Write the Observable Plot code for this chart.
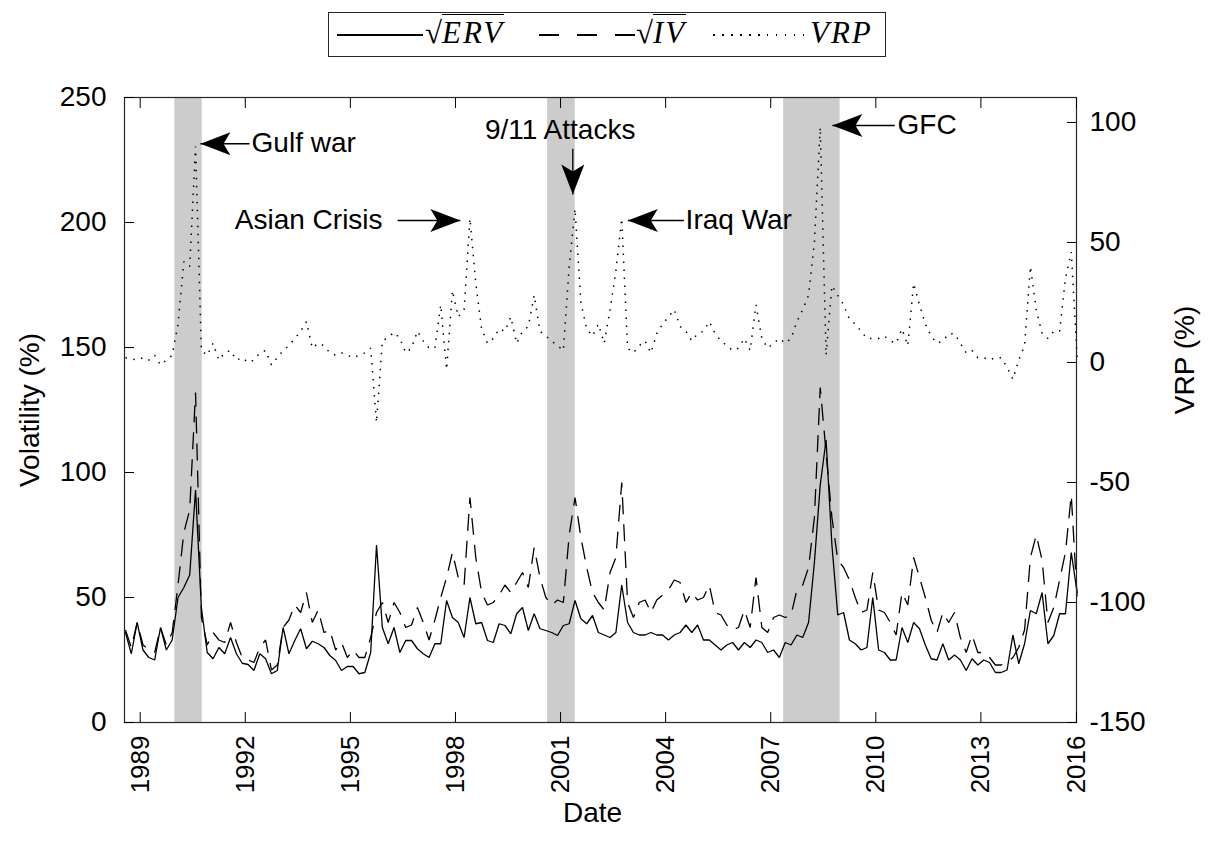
<!DOCTYPE html>
<html>
<head>
<meta charset="utf-8">
<script src="https://cdn.jsdelivr.net/npm/d3@7"></script>
<script src="https://cdn.jsdelivr.net/npm/@observablehq/plot@0.6"></script>
<style>
  body { margin: 0; background: #fff; }
  #wrap { width: 1209px; position: relative; }
  #legend { position: relative; width: 1209px; height: 70px; font-family: "Liberation Serif", "DejaVu Serif", serif; color: #000; }
  #legend .box { position: absolute; left: 328px; top: 12px; width: 558px; height: 45px; box-sizing: border-box; border: 1.2px solid #262626; background: #fff; }
  #legend .sw { position: absolute; top: 34px; height: 1.5px; }
  #legend .lab { position: absolute; top: 17px; font-size: 31px; line-height: 32px; white-space: nowrap; }
  #legend .rad { font-style: normal; }
  #legend .ov { font-style: italic; letter-spacing: 2px; border-top: 1.5px solid #000; padding-top: 0px; }
  #legend .it { font-style: italic; letter-spacing: 2px; }
</style>
</head>
<body>
<div id="wrap">
  <div id="legend">
    <div class="box"></div>
    <div class="sw" style="left:337px;width:86px;background:#000;"></div>
    <div class="lab" style="left:425px;"><span class="rad">√</span><span class="ov">ERV</span></div>
    <div class="sw" style="left:539px;width:96px;background:repeating-linear-gradient(to right,#000 0 20px,transparent 20px 38px);"></div>
    <div class="lab" style="left:636px;"><span class="rad">√</span><span class="ov">IV</span></div>
    <div class="sw" style="left:713px;width:94px;background:repeating-linear-gradient(to right,#000 0 1.5px,transparent 1.5px 9px);"></div>
    <div class="lab it" style="left:810px;">VRP</div>
  </div>
  <div id="chart"></div>
</div>
<script>
const startYear = 1988.58;
const stepYears = 1 / 6;

const erv = [36,27.5,40,29,26,25,38,29,33,50,54,59,
  93,46,28,25.5,30,27.5,34,27.5,23.7,23.2,20.8,27.5,
  25.5,19.5,20.8,38,27.5,32.8,37.5,29.5,32.5,31.5,30,26.8,
  24.8,20.8,22.4,22.4,19.5,20,28,71,38,31.5,38,28,
  32.8,32.8,29.5,27.5,26,31.5,31.5,48.8,42,40,34,50,
  39.5,40,32.8,32,39.5,38.8,35.5,43.5,46,36.8,43.5,37.5,
  36.8,36,34.8,38.8,39.5,48.8,41.5,39.5,42.8,36,35,34,
  36,55,40,36,35,35,36,35,35,33,35,36,
  39,36,39,33,33,31,29,31,32,29,32,30,
  33,32,28,29,26,32,31,35,34,40,64,95,
  113,71,43,44,33,31.5,29,30,50,29,28,25,
  25,38,32,40,37.5,31,25.5,25,31.5,25,27,25,
  20.8,25.5,23,25,24,20,20,21,35,23.5,31.5,44.8,
  43.5,52,31.5,34.8,43.5,43.5,68,52];

const iv = [37,30,40,31,29,28,38,31,36,55,76,85,
  132,42,31,36,33,32,40,32,26,25,24,30,
  33,21,23,38,41,47,44,52,40,45,36,37,
  29,32,26,29,26,26,34,44,48,40,48,44,
  38,39,46,40,33,41,50,58,68,58,55,90,
  66,52,47,48,51,55,52,56,60,54,70,58,
  50,47,49,48,75,90,74,62,52,48,45,60,
  66,96,48,42,48,49,44,49,51,53,57,56,
  48,52,49,50,55,44,43,39,37,38,45,38,
  58,38,36,42,43,42,43,53,55,62,82,134,
  108,82,65,62,57,50,44,45,60,45,44,40,
  35,52,47,66,58,50,41,36,44,40,44,34,
  28,35,28,28,26,23,23,24,26,30,37,66,
  75,65,40,46,57,68,91,50];

const vrp = [2,1.5,1,2,1,3,-1,1,3,16,42,40,
  90,5,3,8,1,4,5,1,2,0,1,4,
  5,-1,2,5,7,10,13,17,6,8,7,4,
  3,4,3,2,3,4,6,-25,9,10.5,12.6,10,
  4,6,13,9,6,6,24,-3,30,19,22,60,
  33,14,8,10,14,13,19,8,13,15,28,13,
  11,9,7,5,40,64,25,14,11,16,8,22,
  38,60,6,4,7,9,4,12,16,19,22,15,
  13,9,12,13,17,12,9,7,5,6,10,5,
  24,10,6,8,10,8,10,17,22,28,50,98,
  3,32,28,24,18,16,13,10,10,10,11,9,
  8,14,7,33,24,16,11,8,9,12,12,8,
  4,5,2,2,1,2,2,-2,-7,1,7,40,
  22,12,10,13,13,35,46,2];

// Shaded crisis periods (decimal years)
const bandStarts = [1989.99, 2000.63, 2007.37];
const bandEnds   = [1990.77, 2001.42, 2008.98];

// Axes
const xDomain = [1988.552, 2015.729];
const xTickValues = [1989, 1992, 1995, 1998, 2001, 2004, 2007, 2010, 2013, 2015.729];
const xTickLabels = ["1989","1992","1995","1998","2001","2004","2007","2010","2013","2016"];
const leftDomain = [0, 250];
const leftTicks = [0, 50, 100, 150, 200, 250];
const vrpDomain = [-150, 110.4];
const rightTicks = [-150, -100, -50, 0, 50, 100];

// Annotations
const annLabels = ["Gulf war", "Asian Crisis", "9/11 Attacks", "Iraq War", "GFC"];
const annX = [1992.18, 1995.92, 2000.99, 2004.57, 2010.62];
const annY = [231.6, 200.8, 237, 200.8, 238.8];
const annAnchor = ["start", "end", "middle", "start", "start"];
const arrowTipX  = [1990.72, 1998.14, 2001.35, 2002.92, 2008.76];
const arrowTipY  = [231.5, 200.8, 211.2, 200.8, 238.8];
const arrowTailX = [1992.12, 1996.35, 2001.35, 2004.52, 2010.54];
const arrowTailY = [231.5, 200.8, 229.5, 200.8, 238.8];
const arrowDir   = ["left", "right", "down", "left", "left"];

// ---- Build tables ----
const toLeft = v => (v - vrpDomain[0]) / (vrpDomain[1] - vrpDomain[0]) * (leftDomain[1] - leftDomain[0]) + leftDomain[0];
const rows = erv.map((e, i) => ({t: startYear + i * stepYears, erv: e, iv: iv[i], vrpL: toLeft(vrp[i])}));
const bands = bandStarts.map((s, i) => ({start: s, end: bandEnds[i]}));
const anns = annLabels.map((l, i) => ({label: l, x: annX[i], y: annY[i], anchor: annAnchor[i]}));
const arrows = arrowDir.map((d, i) => ({dir: d, x1: arrowTailX[i], y1: arrowTailY[i], x2: arrowTipX[i], y2: arrowTipY[i]}));

const HL = 30, HW = 11.5, HN = 23;
const headLeft = {draw(c) { c.moveTo(0,0); c.lineTo(HL,-HW); c.lineTo(HN,0); c.lineTo(HL,HW); c.closePath(); }};
const headRight = {draw(c) { c.moveTo(0,0); c.lineTo(-HL,-HW); c.lineTo(-HN,0); c.lineTo(-HL,HW); c.closePath(); }};
const headDown = {draw(c) { c.moveTo(0,0); c.lineTo(-HW,-HL); c.lineTo(0,-HN); c.lineTo(HW,-HL); c.closePath(); }};
const heads = {left: headLeft, right: headRight, down: headDown};

const rightLabel = v => String(rightTicks[rightTicks.map(toLeft).indexOf(v)]);

const chart = Plot.plot({
  width: 1209,
  height: 779,
  marginLeft: 124,
  marginRight: 133,
  marginTop: 27,
  marginBottom: 127,
  x: {type: "linear", domain: xDomain},
  y: {type: "linear", domain: leftDomain},
  style: {fontFamily: "'Liberation Sans', Arial, Helvetica, sans-serif", fontSize: "28px", background: "white", color: "black"},
  marks: [
    Plot.rect(bands, {x1: "start", x2: "end", fill: "#cccccc"}),
    Plot.line(rows, {x: "t", y: "vrpL", stroke: "black", strokeWidth: 1.5, strokeDasharray: "1.5,6.5", strokeLinecap: "butt", strokeLinejoin: "miter"}),
    Plot.line(rows, {x: "t", y: "iv", stroke: "black", strokeWidth: 1.3, strokeDasharray: "17,10", strokeLinecap: "butt", strokeLinejoin: "miter"}),
    Plot.line(rows, {x: "t", y: "erv", stroke: "black", strokeWidth: 1.3, strokeLinejoin: "miter"}),
    Plot.frame({stroke: "#262626", strokeWidth: 1.2}),
    Plot.axisY({anchor: "left", ticks: leftTicks, tickSize: -10, tickPadding: 28, label: null, tickFormat: d => String(d)}),
    Plot.axisY({anchor: "right", ticks: rightTicks.map(toLeft), tickSize: -10, tickPadding: 23, label: null, tickFormat: rightLabel}),
    Plot.axisX({anchor: "bottom", ticks: xTickValues, tickSize: -10, tickPadding: 23, tickRotate: -90, fontSize: 26, label: null, tickFormat: d => xTickLabels[xTickValues.indexOf(d)]}),
    Plot.axisX({anchor: "top", ticks: xTickValues, tickSize: -10, label: null, tickFormat: () => ""}),
    Plot.text(["Volatility (%)"], {frameAnchor: "left", dx: -94, rotate: -90, textAnchor: "middle", lineAnchor: "middle", text: d => d}),
    Plot.text(["VRP (%)"], {frameAnchor: "right", dx: 109, dy: -50, rotate: -90, textAnchor: "middle", lineAnchor: "middle", text: d => d}),
    Plot.text(["Date"], {frameAnchor: "bottom", dx: -8, dy: 91, textAnchor: "middle", lineAnchor: "middle", text: d => d}),
    // annotations
    Plot.link(arrows, {x1: "x1", y1: "y1", x2: "x2", y2: "y2", stroke: "black", strokeWidth: 1.3}),
    ...Object.keys(heads).map(k => Plot.dot(arrows.filter(a => a.dir === k), {x: "x2", y: "y2", r: 5, symbol: heads[k], fill: "black", stroke: "none"})),
    ...["start", "end", "middle"].map(a => Plot.text(anns.filter(d => d.anchor === a), {x: "x", y: "y", text: "label", textAnchor: a, fill: "black"}))
  ]
});
document.getElementById("chart").appendChild(chart);
</script>
</body>
</html>
